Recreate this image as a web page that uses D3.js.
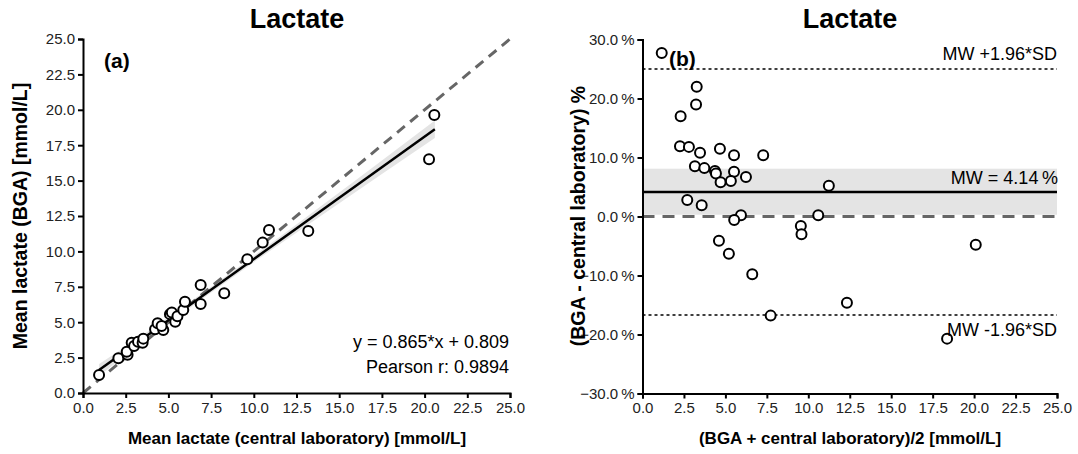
<!DOCTYPE html>
<html>
<head>
<meta charset="utf-8">
<script src="https://cdn.jsdelivr.net/npm/d3@7"></script>
<style>
  body { margin: 0; background: #fff; }
  svg { font-family: "Liberation Sans", Arial, sans-serif; }
</style>
</head>
<body>
<div id="chart"></div>
<script>
// panel (a): central laboratory vs BGA
const labValues = [0.94, 2.07, 2.61, 2.56, 2.85, 2.99, 3.22, 3.49, 3.53, 4.22, 4.37, 4.70, 4.60, 5.09, 5.20, 5.40, 5.53, 5.87, 5.97, 6.89, 6.89, 8.27, 9.62, 10.52, 10.89, 13.19, 20.26, 20.57];
const bgaValues = [1.27, 2.45, 2.70, 2.92, 3.55, 3.32, 3.62, 3.55, 3.84, 4.50, 4.92, 4.45, 4.73, 5.57, 5.68, 5.04, 5.42, 5.86, 6.45, 7.63, 6.28, 7.04, 9.44, 10.62, 11.51, 11.44, 16.50, 19.63];

const fitSlope = 0.865;
const fitIntercept = 0.809;
const fitRange = [0.94, 20.6];
// confidence band half width read at a few x positions
const bandX = [0.94, 3, 6, 10, 14, 17.5, 20.6];
const bandHalf = [0.42, 0.28, 0.2, 0.22, 0.34, 0.48, 0.62];

// panel (b): Bland-Altman
const meanValues = [1.16, 3.27, 3.23, 2.30, 2.26, 2.80, 3.47, 4.67, 5.52, 7.28, 3.16, 3.73, 4.37, 4.43, 5.52, 4.71, 5.33, 6.24, 11.24, 2.70, 3.57, 5.94, 5.53, 10.6, 9.55, 9.59, 4.61, 5.21, 20.1, 6.62, 12.33, 7.73, 18.37];
const diffValues = [27.7, 22.0, 19.0, 17.0, 11.9, 11.8, 10.8, 11.5, 10.4, 10.4, 8.5, 8.2, 7.7, 7.3, 7.6, 5.8, 6.0, 6.7, 5.2, 2.8, 1.9, 0.2, -0.6, 0.2, -1.6, -3.0, -4.1, -6.3, -4.8, -9.8, -14.6, -16.8, -20.7];

const meanDiff = 4.14;
const upperLimit = 25.0;
const lowerLimit = -16.7;
const meanCI = [0.3, 8.1];

const axisTicks = [0, 2.5, 5, 7.5, 10, 12.5, 15, 17.5, 20, 22.5, 25];
const pctTicks = [-30, -20, -10, 0, 10, 20, 30];

const width = 1078;
const height = 454;

const svg = d3.select("#chart")
  .append("svg")
  .attr("width", width)
  .attr("height", height);

function styleAxis(g) {
  g.selectAll("path, line").attr("stroke", "#000").attr("stroke-width", 2);
  g.selectAll("text").attr("font-size", 15).attr("fill", "#222");
}

// ---------- panel (a) ----------
const xA = d3.scaleLinear().domain([0, 25]).range([83, 510]);
const yA = d3.scaleLinear().domain([0, 25]).range([393, 39]);

const bandArea = d3.area()
  .x((d) => xA(d[0]))
  .y0((d) => yA(fitSlope * d[0] + fitIntercept - d[1]))
  .y1((d) => yA(fitSlope * d[0] + fitIntercept + d[1]))
  .curve(d3.curveMonotoneX);

svg.append("path")
  .datum(bandX.map((x, i) => [x, bandHalf[i]]))
  .attr("d", bandArea)
  .attr("fill", "#e4e4e4");

svg.append("line")
  .attr("x1", xA(0)).attr("y1", yA(0))
  .attr("x2", xA(25)).attr("y2", yA(25))
  .attr("stroke", "#666")
  .attr("stroke-width", 3)
  .attr("stroke-dasharray", "10,7");

svg.append("line")
  .attr("x1", xA(fitRange[0])).attr("y1", yA(fitSlope * fitRange[0] + fitIntercept))
  .attr("x2", xA(fitRange[1])).attr("y2", yA(fitSlope * fitRange[1] + fitIntercept))
  .attr("stroke", "#000")
  .attr("stroke-width", 2.5);

svg.append("g")
  .selectAll("circle")
  .data(labValues)
  .join("circle")
  .attr("cx", (d) => xA(d))
  .attr("cy", (d, i) => yA(bgaValues[i]))
  .attr("r", 5)
  .attr("fill", "#fff")
  .attr("stroke", "#000")
  .attr("stroke-width", 2);

svg.append("g")
  .attr("transform", `translate(0,${yA(0)})`)
  .call(d3.axisBottom(xA).tickValues(axisTicks).tickSize(5).tickPadding(4).tickFormat(d3.format(".1f")))
  .call(styleAxis);

svg.append("g")
  .attr("transform", `translate(${xA(0)},0)`)
  .call(d3.axisLeft(yA).tickValues(axisTicks).tickSize(5).tickPadding(3).tickFormat(d3.format(".1f")))
  .call(styleAxis);

svg.append("text")
  .attr("x", 297).attr("y", 28)
  .attr("text-anchor", "middle")
  .attr("font-size", 27).attr("font-weight", "bold")
  .text("Lactate");

svg.append("text")
  .attr("x", 104).attr("y", 68)
  .attr("font-size", 21).attr("font-weight", "bold")
  .text("(a)");

svg.append("text")
  .attr("x", 509).attr("y", 348)
  .attr("text-anchor", "end")
  .attr("font-size", 18)
  .text("y = 0.865*x + 0.809");

svg.append("text")
  .attr("x", 509).attr("y", 373)
  .attr("text-anchor", "end")
  .attr("font-size", 18)
  .text("Pearson r: 0.9894");

svg.append("text")
  .attr("x", 297).attr("y", 444)
  .attr("text-anchor", "middle")
  .attr("font-size", 17).attr("font-weight", "bold")
  .text("Mean lactate (central laboratory) [mmol/L]");

svg.append("text")
  .attr("transform", "translate(27,216) rotate(-90)")
  .attr("text-anchor", "middle")
  .attr("font-size", 19.5).attr("font-weight", "bold")
  .text("Mean lactate (BGA) [mmol/L]");

// ---------- panel (b) ----------
const xB = d3.scaleLinear().domain([0, 25]).range([642.5, 1057]);
const yB = d3.scaleLinear().domain([-30, 30]).range([393.5, 39.5]);

svg.append("rect")
  .attr("x", xB(0)).attr("y", yB(meanCI[1]))
  .attr("width", xB(25) - xB(0))
  .attr("height", yB(meanCI[0]) - yB(meanCI[1]))
  .attr("fill", "#e4e4e4");

svg.append("line")
  .attr("x1", xB(0)).attr("x2", xB(25))
  .attr("y1", yB(0)).attr("y2", yB(0))
  .attr("stroke", "#666")
  .attr("stroke-width", 3)
  .attr("stroke-dasharray", "12,8");

svg.append("line")
  .attr("x1", xB(0)).attr("x2", xB(25))
  .attr("y1", yB(meanDiff)).attr("y2", yB(meanDiff))
  .attr("stroke", "#000")
  .attr("stroke-width", 2.5);

[upperLimit, lowerLimit].forEach((v) => {
  svg.append("line")
    .attr("x1", xB(0)).attr("x2", xB(25))
    .attr("y1", yB(v)).attr("y2", yB(v))
    .attr("stroke", "#000")
    .attr("stroke-width", 1.5)
    .attr("stroke-dasharray", "3,3");
});

svg.append("g")
  .selectAll("circle")
  .data(meanValues)
  .join("circle")
  .attr("cx", (d) => xB(d))
  .attr("cy", (d, i) => yB(diffValues[i]))
  .attr("r", 5)
  .attr("fill", "#fff")
  .attr("stroke", "#000")
  .attr("stroke-width", 2);

svg.append("g")
  .attr("transform", `translate(0,${yB(-30)})`)
  .call(d3.axisBottom(xB).tickValues(axisTicks).tickSize(5).tickPadding(4).tickFormat(d3.format(".1f")))
  .call(styleAxis);

svg.append("g")
  .attr("transform", `translate(${xB(0)},0)`)
  .call(d3.axisLeft(yB).tickValues(pctTicks).tickSize(5).tickPadding(3).tickFormat((d) => d3.format(".1f")(d) + "\u2009%"))
  .call(styleAxis);

svg.append("text")
  .attr("x", 850).attr("y", 28)
  .attr("text-anchor", "middle")
  .attr("font-size", 27).attr("font-weight", "bold")
  .text("Lactate");

svg.append("text")
  .attr("x", 669).attr("y", 66)
  .attr("font-size", 21).attr("font-weight", "bold")
  .text("(b)");

svg.append("text")
  .attr("x", 1057).attr("y", yB(upperLimit) - 9)
  .attr("text-anchor", "end")
  .attr("font-size", 18)
  .text("MW +1.96*SD");

svg.append("text")
  .attr("x", 1058).attr("y", yB(meanDiff) - 8)
  .attr("text-anchor", "end")
  .attr("font-size", 18)
  .text("MW = 4.14\u2009%");

svg.append("text")
  .attr("x", 1057).attr("y", yB(lowerLimit) + 21)
  .attr("text-anchor", "end")
  .attr("font-size", 18)
  .text("MW -1.96*SD");

svg.append("text")
  .attr("x", 850).attr("y", 444)
  .attr("text-anchor", "middle")
  .attr("font-size", 17).attr("font-weight", "bold")
  .text("(BGA + central laboratory)/2 [mmol/L]");

svg.append("text")
  .attr("transform", "translate(585,216) rotate(-90)")
  .attr("text-anchor", "middle")
  .attr("font-size", 19.5).attr("font-weight", "bold")
  .text("(BGA - central laboratory) %");
</script>
</body>
</html>
